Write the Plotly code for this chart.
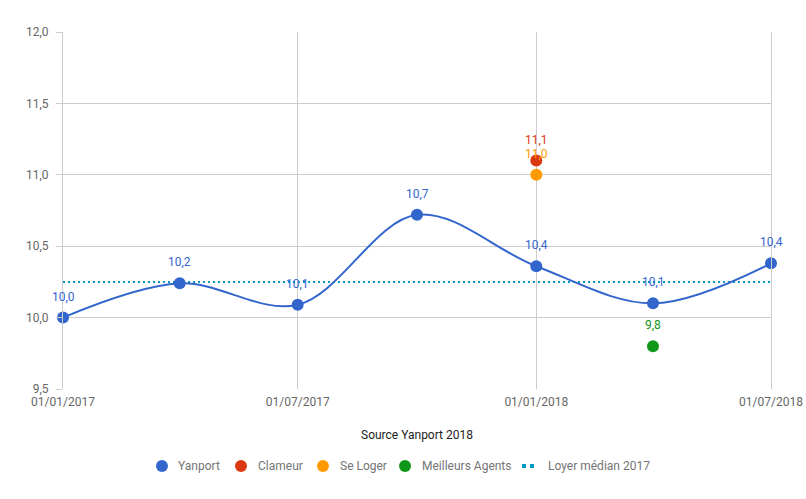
import plotly.graph_objects as go

dates = ["2017-01-01", "2017-04-01", "2017-07-01", "2017-10-01", "2018-01-01", "2018-04-01", "2018-07-01"]
yanport = [10.0, 10.24, 10.09, 10.72, 10.36, 10.10, 10.38]
clameur_date = ["2018-01-01"]
clameur = [11.1]
seloger_date = ["2018-01-01"]
seloger = [11.0]
ma_date = ["2018-04-01"]
meilleurs_agents = [9.8]
median_dates = ["2017-01-01", "2018-07-01"]
median_2017 = [10.25, 10.25]
xtick_vals = ["2017-01-01", "2017-07-01", "2018-01-01", "2018-07-01"]
xtick_text = ["01/01/2017", "01/07/2017", "01/01/2018", "01/07/2018"]
ytick_vals = [9.5, 10.0, 10.5, 11.0, 11.5, 12.0]
legend_names = ["Yanport", "Clameur", "Se Loger", "Meilleurs Agents", "Loyer médian 2017"]

C_YAN, C_CLA, C_SEL, C_MA, C_MED = "#3366cc", "#dc3912", "#ff9900", "#109618", "#0099c6"

def fmt(v):
    return f"{v:.1f}".replace(".", ",")

fig = go.Figure()
fig.add_trace(go.Scatter(
    x=median_dates, y=median_2017, name="Loyer médian 2017", mode="lines",
    line=dict(color=C_MED, width=2, dash="2px,3px"), cliponaxis=False))
fig.add_trace(go.Scatter(
    x=dates, y=yanport, name="Yanport", mode="lines+markers",
    line=dict(color=C_YAN, width=2, shape="spline", smoothing=1),
    marker=dict(size=12, color=C_YAN), cliponaxis=False))
fig.add_trace(go.Scatter(
    x=seloger_date, y=seloger, name="Se Loger", mode="markers",
    marker=dict(size=12, color=C_SEL), cliponaxis=False))
fig.add_trace(go.Scatter(
    x=clameur_date, y=clameur, name="Clameur", mode="markers",
    marker=dict(size=12, color=C_CLA), cliponaxis=False))
fig.add_trace(go.Scatter(
    x=ma_date, y=meilleurs_agents, name="Meilleurs Agents", mode="markers",
    marker=dict(size=12, color=C_MA), cliponaxis=False))

# data labels
for xs, ys, col in [(dates, yanport, C_YAN), (seloger_date, seloger, C_SEL),
                    (clameur_date, clameur, C_CLA), (ma_date, meilleurs_agents, C_MA)]:
    for xv, yv in zip(xs, ys):
        fig.add_annotation(x=xv, y=yv, text=fmt(yv), showarrow=False,
                           yshift=21, font=dict(color=col, size=12, family="Roboto"))

# manual legend (paper coords)
ly = -0.2157
sym_x = [0.1398, 0.2514, 0.3672, 0.4831]
txt_x = [0.1596, 0.2726, 0.3884, 0.5042, 0.6822]
cols = [C_YAN, C_CLA, C_SEL, C_MA]
for sx, col in zip(sym_x, cols):
    fig.add_shape(type="circle", xref="paper", yref="paper", xsizemode="pixel", ysizemode="pixel",
                  xanchor=sx, yanchor=ly, x0=-6, x1=6, y0=-6, y1=6,
                  fillcolor=col, line=dict(width=0))
fig.add_shape(type="line", xref="paper", yref="paper", x0=0.6483, x1=0.6695, y0=ly, y1=ly,
              line=dict(color=C_MED, width=4, dash="4px,4px"))
for tx, name in zip(txt_x, legend_names):
    fig.add_annotation(xref="paper", yref="paper", x=tx, y=ly, text=name, showarrow=False,
                       xanchor="left", yanchor="middle",
                       font=dict(size=12, color="#757575", family="Roboto"))

fig.update_layout(
    width=806, height=499,
    margin=dict(l=63, r=35, t=32, b=110),
    paper_bgcolor="white", plot_bgcolor="white",
    font=dict(family="Roboto", size=12, color="#666666"),
    separators=", ",
    showlegend=False,
    xaxis=dict(
        type="date", range=["2017-01-01", "2018-07-01"],
        tickvals=xtick_vals, ticktext=xtick_text,
        showgrid=True, gridcolor="#cccccc", gridwidth=1,
        zeroline=False, showline=False, ticks="", automargin=False,
        ticklabelstandoff=4, ticklabeloverflow="allow",
        tickfont=dict(size=12, color="#666666"),
        title=dict(text="Source Yanport 2018", font=dict(size=12, color="#222222"), standoff=22),
    ),
    yaxis=dict(
        range=[9.5, 12.0], tickvals=ytick_vals, tickformat=".1f",
        showgrid=True, gridcolor="#cccccc", gridwidth=1,
        zeroline=False, showline=True, mirror=True, linecolor="#cccccc", linewidth=1,
        ticks="outside", ticklen=6, tickcolor="#cccccc", automargin=False,
        ticklabelstandoff=5,
        tickfont=dict(size=12, color="#666666"),
    ),
)

# remove the default 8px page margin so the figure fills the window exactly
fig.write_html("out.html", config={"displayModeBar": False},
               post_script="document.body.style.margin='0';")
